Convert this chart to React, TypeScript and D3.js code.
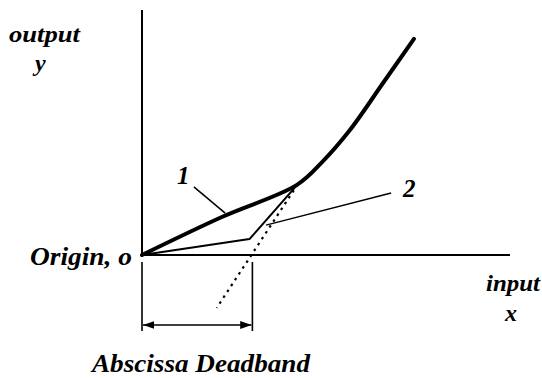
import React from "react";
import * as d3 from "d3";

// Characteristic curves, in input/output units (origin at 0,0; deadband ends at x = 30)
const curve1X = [0, 21.7, 42.1, 49.0, 56.5, 65.5, 73.9];
const curve1Y = [0, 15.5, 28.6, 38.0, 51.0, 70.2, 88.2];
const curve2X = [0, 29.2, 42.3];
const curve2Y = [0, 6.5, 28.8];
const asymptoteX = [42.3, 20.3];
const asymptoteY = [28.8, -21.6];
const deadband = [0, 30];
const leader1 = [[14.1, 27.8], [22.6, 17.1]];
const leader2 = [[33.7, 12.2], [67.7, 25.3]];

const W = 542;
const H = 378;

export default function App() {
  const x = d3.scaleLinear().domain([0, 100]).range([142, 510]);
  const y = d3.scaleLinear().domain([0, 100]).range([255, 10]);

  const line = d3
    .line<[number, number]>()
    .x((d) => x(d[0]))
    .y((d) => y(d[1]));
  const smooth = d3
    .line<[number, number]>()
    .x((d) => x(d[0]))
    .y((d) => y(d[1]))
    .curve(d3.curveCatmullRom.alpha(0.5));

  const c1 = curve1X.map((v, i) => [v, curve1Y[i]] as [number, number]);
  const c2 = curve2X.map((v, i) => [v, curve2Y[i]] as [number, number]);
  const asym = asymptoteX.map((v, i) => [v, asymptoteY[i]] as [number, number]);

  const dimY = 325;
  const tickTop = 262;
  const tickBottom = 331;

  const T = (p: { x: number; y: number; size: number; len?: number; anchor?: string; children: string }) => (
    <text
      x={p.x}
      y={p.y}
      fontSize={p.size}
      textAnchor={p.anchor || "start"}
      textLength={p.len}
      lengthAdjust={p.len ? "spacingAndGlyphs" : undefined}
      fontFamily="Liberation Serif"
      fontStyle="italic"
      fontWeight="bold"
      fill="#000"
    >
      {p.children}
    </text>
  );

  return (
    <svg
      width={W}
      height={H}
      style={{ position: "absolute", left: 0, top: 0, background: "#fff" }}
    >
      <defs>
        <marker id="ah" viewBox="0 0 10 10" refX="10" refY="5" markerWidth="7" markerHeight="7" orient="auto-start-reverse">
          <path d="M0,1.5 L10,5 L0,8.5 Z" fill="#000" />
        </marker>
      </defs>

      {/* axes */}
      <line x1={x(0)} y1={10} x2={x(0)} y2={y(0)} stroke="#000" strokeWidth={2} />
      <line x1={x(0)} y1={y(0)} x2={x(100)} y2={y(0)} stroke="#000" strokeWidth={2.2} />

      {/* deadband dimension */}
      {deadband.map((d, i) => (
        <line key={i} x1={x(d)} y1={tickTop} x2={x(d)} y2={tickBottom} stroke="#000" strokeWidth={1.6} />
      ))}
      <line
        x1={x(deadband[0]) + 1}
        y1={dimY}
        x2={x(deadband[1]) - 1}
        y2={dimY}
        stroke="#000"
        strokeWidth={1.6}
        markerStart="url(#ah)"
        markerEnd="url(#ah)"
      />

      {/* asymptote (dotted) */}
      <path d={line(asym) || ""} fill="none" stroke="#000" strokeWidth={2.2} strokeDasharray="2.5 4.5" />

      {/* curve 2: thin piecewise */}
      <path d={line(c2) || ""} fill="none" stroke="#000" strokeWidth={2} strokeLinejoin="round" />

      {/* curve 1: thick smooth */}
      <path d={smooth(c1) || ""} fill="none" stroke="#000" strokeWidth={4} strokeLinecap="round" />

      {/* leaders */}
      <path d={line(leader1 as [number, number][]) || ""} stroke="#000" strokeWidth={1.5} fill="none" />
      <path d={line(leader2 as [number, number][]) || ""} stroke="#000" strokeWidth={1.5} fill="none" />

      {/* labels */}
      <T x={9} y={42} size={24} len={71}>output</T>
      <T x={35} y={71} size={24}>y</T>
      <T x={30} y={265} size={26} len={102}>Origin, o</T>
      <T x={486} y={291} size={24} len={54}>input</T>
      <T x={505} y={321} size={24}>x</T>
      <T x={177} y={184} size={25}>1</T>
      <T x={403} y={197} size={25}>2</T>
      <T x={92} y={372} size={26} len={218}>Abscissa Deadband</T>
    </svg>
  );
}
